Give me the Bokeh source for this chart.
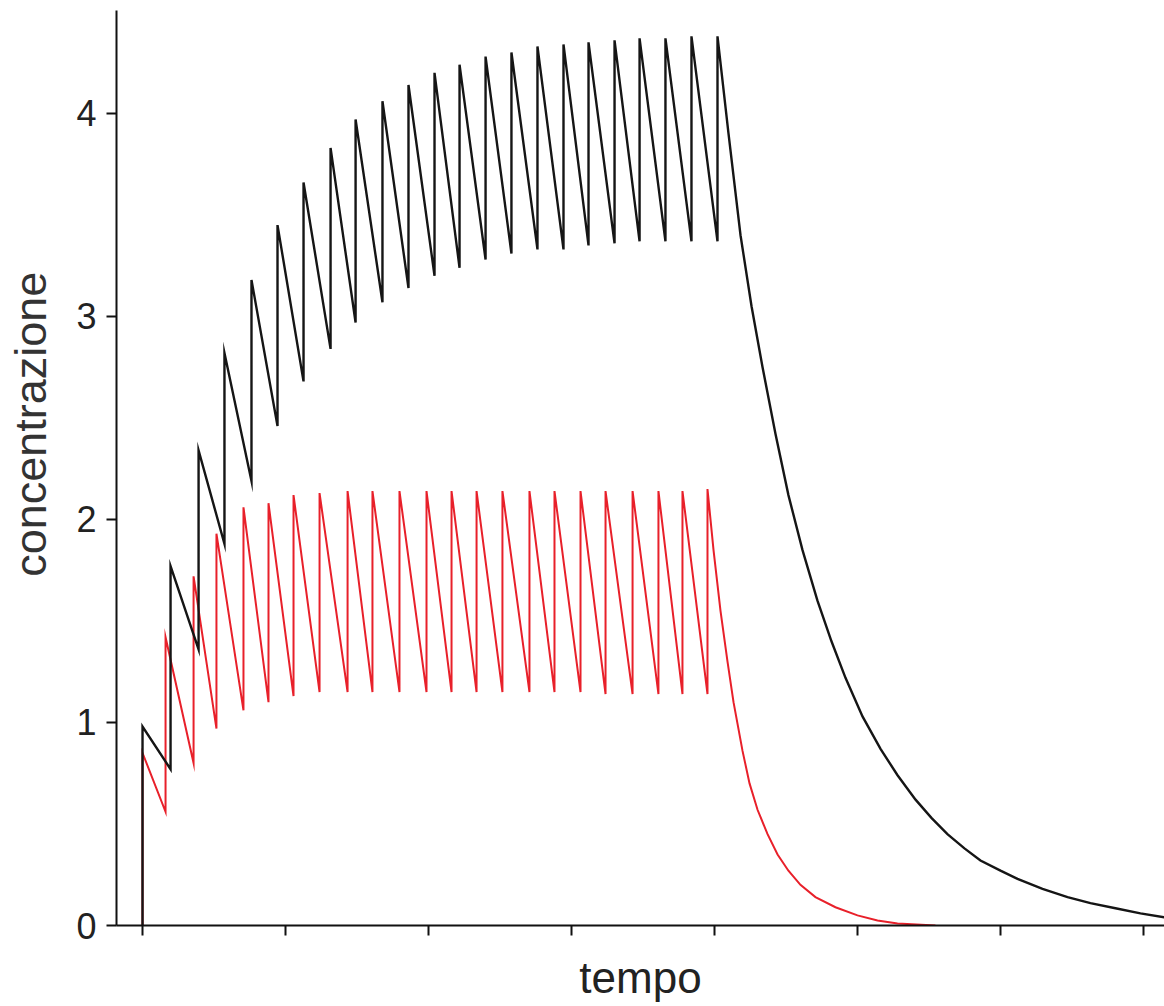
from bokeh.plotting import figure
from bokeh.models import FixedTicker, Range1d
from bokeh.embed import file_html
from bokeh.resources import INLINE

# ---- data (time in tick units: one tick = 10) ----
y_ticks = [0, 1, 2, 3, 4]
x_ticks = [0, 10, 20, 30, 40, 50, 60, 70]

# black series (slow elimination)
black_dose_t = [0.0, 1.96, 3.92, 5.73, 7.62, 9.44, 11.26, 13.15, 14.90, 16.78, 18.60,
                20.42, 22.17, 23.99, 25.80, 27.62, 29.44, 31.19, 33.01, 34.76, 36.57,
                38.39, 40.21]
black_peak = [0.98, 1.77, 2.34, 2.82, 3.18, 3.45, 3.66, 3.83, 3.97, 4.06, 4.14, 4.20,
              4.24, 4.28, 4.30, 4.33, 4.34, 4.35, 4.36, 4.37, 4.37, 4.38, 4.38]
black_trough = [0.77, 1.36, 1.88, 2.19, 2.46, 2.68, 2.84, 2.97, 3.07, 3.14, 3.20,
                3.24, 3.28, 3.31, 3.33, 3.33, 3.35, 3.36, 3.37, 3.37, 3.37, 3.37]
black_wash_t = [40.98, 41.82, 42.59, 43.36, 44.27, 45.17, 46.15, 47.20, 48.18, 49.16,
                50.35, 51.61, 52.80, 54.06, 55.17, 56.29, 57.48, 58.60, 60.00, 61.19,
                62.94, 64.69, 66.29, 68.04, 69.79, 71.47]
black_wash_c = [3.90, 3.40, 3.05, 2.75, 2.42, 2.12, 1.85, 1.60, 1.40, 1.22,
                1.03, 0.87, 0.74, 0.62, 0.53, 0.45, 0.38, 0.32, 0.27, 0.23,
                0.18, 0.14, 0.11, 0.085, 0.06, 0.04]

# red series (fast elimination)
red_dose_t = [0.0, 1.61, 3.57, 5.17, 7.06, 8.81, 10.56, 12.38, 14.34, 16.08, 17.97,
              19.86, 21.61, 23.36, 25.17, 27.06, 28.81, 30.63, 32.38, 34.27, 36.08,
              37.76, 39.51]
red_peak = [0.85, 1.42, 1.72, 1.93, 2.06, 2.08, 2.12, 2.13, 2.14, 2.14, 2.14, 2.14,
            2.14, 2.14, 2.14, 2.14, 2.14, 2.14, 2.14, 2.14, 2.14, 2.14, 2.15]
red_trough = [0.56, 0.80, 0.97, 1.06, 1.10, 1.13, 1.15, 1.15, 1.15, 1.15, 1.15,
              1.15, 1.15, 1.15, 1.15, 1.15, 1.15, 1.14, 1.14, 1.14, 1.14, 1.14]
red_wash_t = [39.93, 40.42, 40.91, 41.33, 41.96, 42.45, 43.01, 43.71, 44.41, 45.17,
              46.01, 47.06, 48.46, 50.00, 51.40, 52.80, 55.45]
red_wash_c = [1.85, 1.55, 1.30, 1.10, 0.86, 0.70, 0.57, 0.45, 0.35, 0.27,
              0.20, 0.14, 0.09, 0.05, 0.025, 0.01, 0.0]

x_title = "tempo"
y_title = "concentrazione"


def build_path(dose_t, peaks, troughs, wash_t, wash_c):
    xs = [dose_t[0]]
    ys = [0.0]
    for i, (t, pk) in enumerate(zip(dose_t, peaks)):
        if i > 0:
            xs.append(t)
            ys.append(troughs[i - 1])
        xs.append(t)
        ys.append(pk)
    xs += list(wash_t)
    ys += list(wash_c)
    return xs, ys


p = figure(width=1164, height=1006, output_backend="svg", toolbar_location=None,
           x_range=Range1d(-1.82, 71.47), y_range=Range1d(0, 4.507),
           min_border_left=116, min_border_right=0, min_border_top=10,
           min_border_bottom=81)
p.outline_line_color = None
p.grid.visible = False
p.background_fill_color = "white"

bx, by = build_path(black_dose_t, black_peak, black_trough, black_wash_t, black_wash_c)
rx, ry = build_path(red_dose_t, red_peak, red_trough, red_wash_t, red_wash_c)

p.line(rx, ry, line_color="#e8202a", line_width=2.0, line_join="miter")
p.line(bx, by, line_color="#151515", line_width=2.4, line_join="miter")

# axes
p.xaxis.ticker = FixedTicker(ticks=x_ticks, minor_ticks=[])
p.yaxis.ticker = FixedTicker(ticks=y_ticks, minor_ticks=[])
for ax in (p.xaxis[0], p.yaxis[0]):
    ax.axis_line_width = 2
    ax.axis_line_color = "#111111"
    ax.major_tick_line_color = "#111111"
    ax.major_tick_line_width = 2
    ax.major_tick_in = 0
    ax.major_tick_out = 10
    ax.minor_tick_line_color = None
    ax.major_label_text_font = "Liberation Sans"
    ax.major_label_text_color = "#222222"
    ax.axis_label_text_font = "Liberation Sans"
    ax.axis_label_text_font_style = "normal"

p.xaxis.major_label_text_font_size = "1px"
p.xaxis.major_label_text_color = None
p.xaxis.major_label_standoff = 0
p.xaxis.axis_label = x_title
p.xaxis.axis_label_text_font_size = "44px"
p.xaxis.axis_label_text_color = "#222222"
p.xaxis.axis_label_standoff = 17

p.yaxis.major_label_text_font_size = "36px"
p.yaxis.major_label_standoff = 10
# leading no-break spaces shift the centred label upwards, as in the reference
p.yaxis.axis_label = "\u00a0" * 7 + y_title
p.yaxis.axis_label_text_font_size = "45px"
p.yaxis.axis_label_text_color = "#333333"
p.yaxis.axis_label_standoff = 17

open("out.html", "w").write(file_html(p, INLINE))
